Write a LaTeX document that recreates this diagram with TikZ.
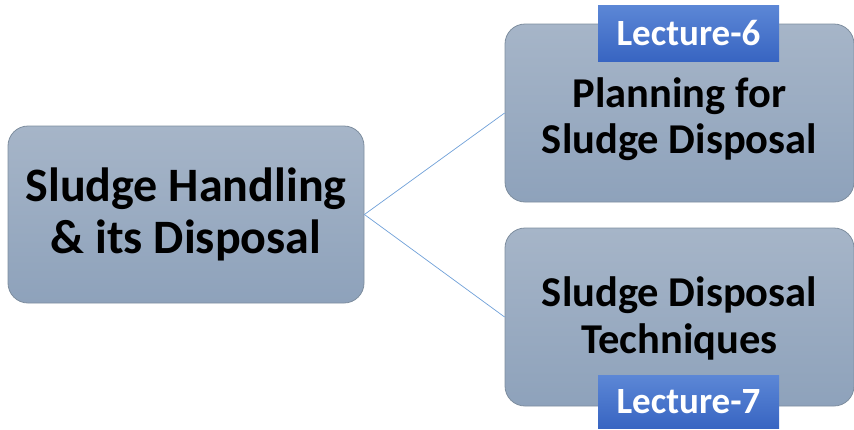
\documentclass[tikz,border=0pt]{standalone}
\usepackage{fontspec}
\setmainfont{Carlito}
\definecolor{boxtop}{HTML}{A6B5C8}
\definecolor{boxbot}{HTML}{8EA2BB}
\definecolor{boxline}{HTML}{7E8E9F}
\definecolor{lectop}{HTML}{5C87D6}
\definecolor{lecbot}{HTML}{3865C2}
\definecolor{linkblue}{HTML}{6FA0D8}
\begin{document}
\begin{tikzpicture}[x=1pt, y=-1pt,
    topic/.style={draw=boxline, line width=0.8pt, rounded corners=20pt,
        top color=boxtop, bottom color=boxbot, align=center, inner sep=0pt,
        font=\bfseries},
    lecture/.style={top color=lectop, bottom color=lecbot, text=white,
        inner sep=0pt, minimum width=181pt, font=\bfseries\fontsize{37}{40}\selectfont},
    link/.style={draw=linkblue, line width=0.7pt}]
    \useasboundingbox (0,0) rectangle (854,429);

    % Main topic on the left
    \node[topic, minimum width=356pt, minimum height=177pt,
        font=\bfseries\fontsize{48}{52}\selectfont] (main) at (186,214.5)
        {Sludge Handling\\ \& its Disposal};

    % Two sub topics on the right
    \node[topic, minimum width=349pt, minimum height=178pt] (plan) at (679.5,113) {};
    \node[font=\bfseries\fontsize{42.5}{46}\selectfont, align=center] (plantext) at (679.5,119)
        {Planning for\\ Sludge Disposal};
    \node[topic, minimum width=349pt, minimum height=178pt] (tech) at (679.5,317) {};
    \node[font=\bfseries\fontsize{42.5}{47}\selectfont, align=center] (techtext) at (679.5,318)
        {Sludge Disposal\\ Techniques};

    % Connectors
    \draw[link] (main.east) -- (plan.west);
    \draw[link] (main.east) -- (tech.west);

    % Lecture tags
    \node[lecture, minimum height=56pt] (lecsix) at (688.5,33) {Lecture-6};
    \node[lecture, minimum height=53pt] (lecseven) at (688.5,401.5) {Lecture-7};
\end{tikzpicture}
\end{document}
